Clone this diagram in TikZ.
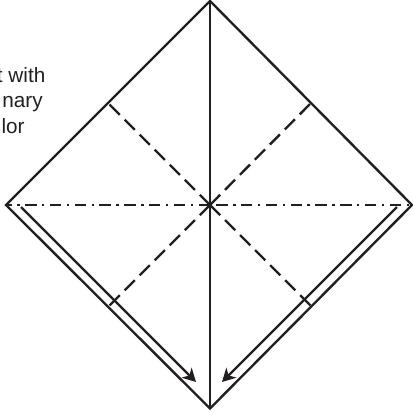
\documentclass[tikz,border=0pt]{standalone}
\usepackage{fontspec}
\setmainfont{Liberation Sans}
\usepackage{xcolor}
\usetikzlibrary{arrows.meta}
\definecolor{ink}{RGB}{35,31,32}
\tikzset{
  edgeline/.style={ink,line width=1.35pt,line join=miter},
  valley/.style={ink,line width=1.35pt,dash pattern=on 8.2pt off 3.9pt},
  mountain/.style={ink,line width=1.35pt,dash pattern=on 6.5pt off 3.1pt on 1.4pt off 3.1pt},
  foldarrow/.style={ink,line width=1.35pt,-{Stealth[length=7.5pt,width=8pt,inset=2.2pt]}},
  notetext/.style={ink,font=\fontsize{11.8}{14}\selectfont,anchor=base east,inner sep=0pt}
}
\begin{document}
\begin{tikzpicture}[x=0.02cm,y=-0.02cm]
  \useasboundingbox (0,0) rectangle (413,413);
  \coordinate (top) at (210,1);
  \coordinate (lft) at (6,205);
  \coordinate (rgt) at (412,205);
  \coordinate (bot) at (210,408.5);
  \coordinate (mid) at (210,205);
  % cut-off caption at the left
  \node[notetext] (noteA) at (45.7,82) {t with};
  \node[notetext] (noteB) at (43,107) {nary};
  \node[notetext] (noteC) at (25,133) {lor};
  % folds through the centre
  \coordinate (ul) at (108,103);
  \coordinate (ur) at (311,103);
  \coordinate (ll) at (108,307);
  \coordinate (lr) at (312,307);
  \foreach \e in {ul,ur,ll,lr} {\draw[valley] (mid) -- (\e);}
  \draw[mountain] (mid) -- (lft);
  \draw[mountain,dash phase=7.9pt] (rgt) -- (mid);
  % outline and centre line
  \draw[edgeline] (top) -- (rgt) -- (bot) -- (lft) -- cycle;
  \draw[edgeline] (top) -- (bot);
  % arrows along the lower edges
  \coordinate (startL) at (21,207);
  \coordinate (tipL) at (196,382);
  \coordinate (startR) at (397,207);
  \coordinate (tipR) at (222,382);
  \draw[foldarrow] (startL) -- (tipL);
  \draw[foldarrow] (startR) -- (tipR);
\end{tikzpicture}
\end{document}
